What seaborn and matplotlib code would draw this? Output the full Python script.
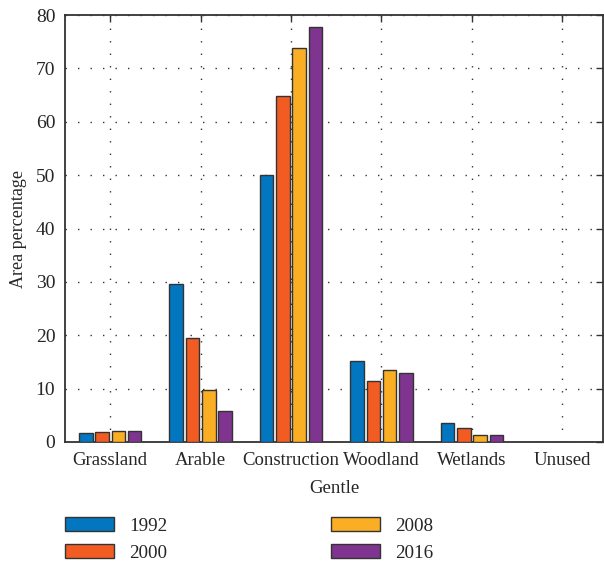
import matplotlib
matplotlib.use("Agg")
import matplotlib.pyplot as plt
import seaborn as sns
import pandas as pd

categories = ["Grassland", "Arable", "Construction", "Woodland", "Wetlands", "Unused"]
years = ["1992", "2000", "2008", "2016"]
v1992 = [1.7, 29.6, 50.1, 15.1, 3.6, 0.08]
v2000 = [1.8, 19.5, 64.8, 11.4, 2.7, 0.08]
v2008 = [2.0, 9.7, 73.8, 13.4, 1.25, 0.08]
v2016 = [2.1, 5.8, 77.8, 13.0, 1.3, 0.08]
colors = ["#0276BF", "#F25C22", "#FAAE23", "#7F3590"]

rows = []
for y, vals in zip(years, [v1992, v2000, v2008, v2016]):
    for c, v in zip(categories, vals):
        rows.append({"Category": c, "Year": y, "Value": v})
df = pd.DataFrame(rows)

sns.set_style("white")
plt.rcParams["font.family"] = ["Liberation Serif", "DejaVu Serif"]
FS = 14.0
plt.rcParams["font.size"] = FS

fig = plt.figure(figsize=(6.04, 5.65), dpi=100)
ax = fig.add_axes([65/604, 1-442/565, 538/604, 427/565])

sns.barplot(data=df, x="Category", y="Value", hue="Year", order=categories,
            hue_order=years, palette=colors, width=0.72, gap=0.17,
            edgecolor="#333333", linewidth=1.0, saturation=1, ax=ax, zorder=3)

ax.set_xlim(-0.5, 5.45)
ax.set_ylim(0, 80)
ax.set_yticks(range(0, 81, 10))
ax.set_xlabel("Gentle", fontsize=13.6, labelpad=8)
ax.set_ylabel("Area percentage", fontsize=13.0, labelpad=6)
ax.grid(True, linestyle=(0, (1, 8)), color="#333333", linewidth=1.0, zorder=0)
ax.set_axisbelow(True)
for s in ax.spines.values():
    s.set_visible(True)
    s.set_color("#333333")
    s.set_linewidth(1.3)
ax.tick_params(direction="in", length=5, width=1.0, color="#333333",
               top=True, right=True, labelsize=FS, pad=7)
ax.tick_params(axis="x", labelsize=13.5)

handles, labels = ax.get_legend_handles_labels()
ax.get_legend().remove()
fig.legend(handles, labels, ncol=2, loc="upper left",
           bbox_to_anchor=(65/604, 1-517/565), frameon=False,
           handlelength=2.55, handleheight=0.72, handletextpad=0.8,
           columnspacing=8.55, labelspacing=0.5, borderpad=0, borderaxespad=0,
           fontsize=13.8)

fig.savefig("out.png", dpi=100)
